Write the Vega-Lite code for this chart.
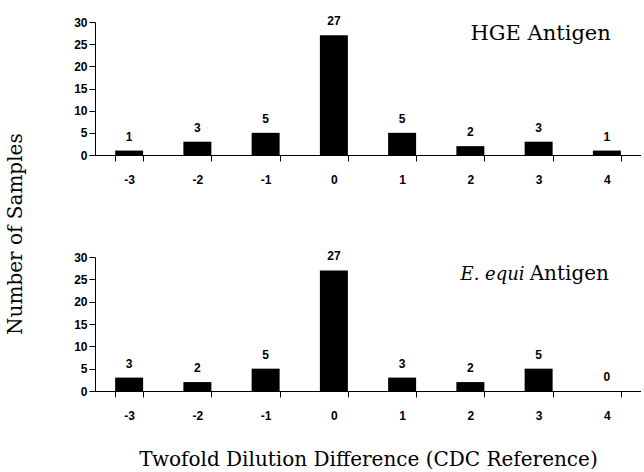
{
  "$schema": "https://vega.github.io/schema/vega-lite/v6.json",
  "background": "white",
  "padding": {"left": 5, "top": 15, "right": 0, "bottom": 0},
  "spacing": 65,
  "title": {
    "text": "Number of Samples",
    "orient": "left",
    "anchor": "middle",
    "font": "DejaVu Serif",
    "fontSize": 20,
    "fontWeight": "normal",
    "color": "black",
    "offset": 48,
    "dx": 8
  },
  "config": {
    "view": {"stroke": null},
    "axis": {
      "domainColor": "black",
      "tickColor": "black",
      "labelColor": "black",
      "labelFont": "Liberation Sans",
      "labelFontWeight": "bold",
      "labelFontSize": 12,
      "tickSize": 6,
      "grid": false,
      "titleFont": "DejaVu Serif",
      "titleFontWeight": "normal",
      "titleFontSize": 20,
      "titleColor": "black"
    }
  },
  "datasets": {
    "hge": [
      {"diff": "-3", "count": 1},
      {"diff": "-2", "count": 3},
      {"diff": "-1", "count": 5},
      {"diff": "0", "count": 27},
      {"diff": "1", "count": 5},
      {"diff": "2", "count": 2},
      {"diff": "3", "count": 3},
      {"diff": "4", "count": 1}
    ],
    "equi": [
      {"diff": "-3", "count": 3},
      {"diff": "-2", "count": 2},
      {"diff": "-1", "count": 5},
      {"diff": "0", "count": 27},
      {"diff": "1", "count": 3},
      {"diff": "2", "count": 2},
      {"diff": "3", "count": 5},
      {"diff": "4", "count": 0}
    ]
  },
  "vconcat": [
    {
      "width": 546,
      "height": 133,
      "data": {"name": "hge"},
      "encoding": {
        "x": {
          "field": "diff", "type": "ordinal",
          "sort": ["-3", "-2", "-1", "0", "1", "2", "3", "4"],
          "scale": {"paddingInner": 0.59, "paddingOuter": 0.295},
          "axis": {"title": null, "labelAngle": 0, "tickBand": "extent", "labelPadding": 13}
        },
        "y": {
          "field": "count", "type": "quantitative",
          "scale": {"domain": [0, 30], "nice": false},
          "axis": {"values": [0, 5, 10, 15, 20, 25, 30], "title": null, "labelPadding": 2}
        }
      },
      "layer": [
        {"mark": {"type": "bar", "color": "black"}},
        {"mark": {"type": "text", "font": "Liberation Sans", "fontWeight": "bold", "fontSize": 12, "color": "black", "baseline": "alphabetic", "dy": -10}, "encoding": {"text": {"field": "count"}}},
        {
          "data": {"values": [{"diff": "3", "count": 26, "label": "HGE Antigen"}]},
          "mark": {"type": "text", "font": "DejaVu Serif", "fontWeight": "normal", "fontSize": 21, "color": "black", "baseline": "alphabetic", "align": "center", "dx": 2},
          "encoding": {"text": {"field": "label"}}
        }
      ]
    },
    {
      "width": 546,
      "height": 134,
      "data": {"name": "equi"},
      "encoding": {
        "x": {
          "field": "diff", "type": "ordinal",
          "sort": ["-3", "-2", "-1", "0", "1", "2", "3", "4"],
          "scale": {"paddingInner": 0.59, "paddingOuter": 0.295},
          "axis": {"title": "Twofold Dilution Difference (CDC Reference)", "labelAngle": 0, "tickBand": "extent", "labelPadding": 13, "titlePadding": 28}
        },
        "y": {
          "field": "count", "type": "quantitative",
          "scale": {"domain": [0, 30], "nice": false},
          "axis": {"values": [0, 5, 10, 15, 20, 25, 30], "title": null, "labelPadding": 2}
        }
      },
      "layer": [
        {"mark": {"type": "bar", "color": "black"}},
        {"mark": {"type": "text", "font": "Liberation Sans", "fontWeight": "bold", "fontSize": 12, "color": "black", "baseline": "alphabetic", "dy": -10}, "encoding": {"text": {"field": "count"}}},
        {
          "data": {"values": [{"diff": "3", "count": 24.8, "label": "E. equi"}]},
          "mark": {"type": "text", "font": "DejaVu Serif", "fontWeight": "normal", "fontStyle": "italic", "fontSize": 18, "color": "black", "baseline": "alphabetic", "align": "right", "dx": -14},
          "encoding": {"text": {"field": "label"}}
        },
        {
          "data": {"values": [{"diff": "3", "count": 24.8, "label": "Antigen"}]},
          "mark": {"type": "text", "font": "DejaVu Serif", "fontWeight": "normal", "fontSize": 20, "color": "black", "baseline": "alphabetic", "align": "left", "dx": -9},
          "encoding": {"text": {"field": "label"}}
        }
      ]
    }
  ]
}
